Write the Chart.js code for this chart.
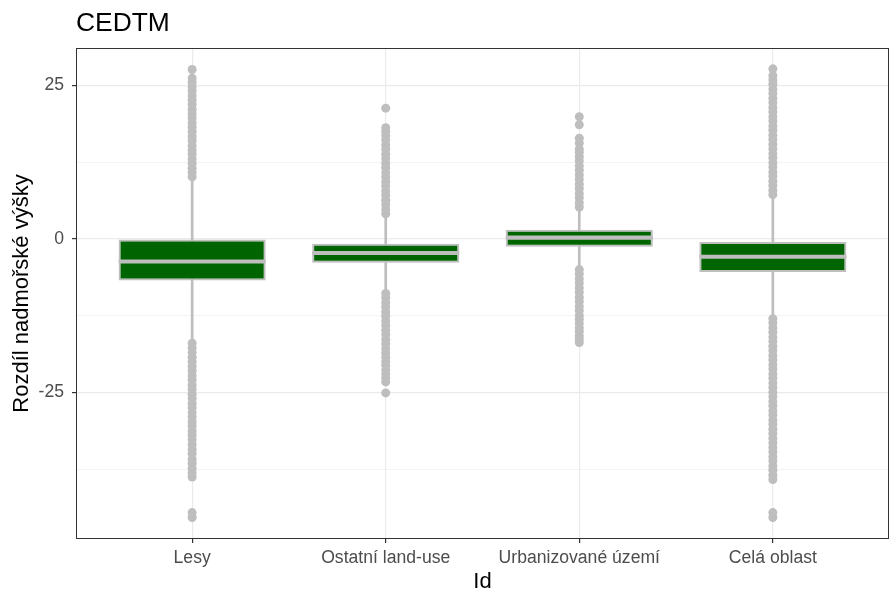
<!DOCTYPE html>
<html>
<head>
<meta charset="utf-8">
<script src="https://cdn.jsdelivr.net/npm/chart.js@4.4.1/dist/chart.umd.min.js"></script>
<style>
  body { margin: 0; background: #fff; }
  #wrap { width: 889px; height: 592px; }
</style>
</head>
<body>
<div id="wrap"><canvas id="boxChart" width="889" height="592"></canvas></div>
<script>
// kategorie a statistiky krabicových grafů
const categories = ['Lesy', 'Ostatní land-use', 'Urbanizované území', 'Celá oblast'];
const q1 = [-6.8, -3.9, -1.3, -5.4];
const median = [-3.7, -2.3, 0.2, -2.9];
const q3 = [-0.1, -0.8, 1.5, -0.5];
const whiskerLo = [-16.6, -8.7, -4.8, -12.8];
const whiskerHi = [9.8, 3.8, 4.9, 6.9];

// odlehlé hodnoty
const lesyOut = [10.1, 10.8, 11.5, 12.3, 13.0, 13.8, 14.5, 15.2, 16.0, 16.7, 17.5, 18.2, 18.9, 19.7, 20.4, 21.1, 21.9, 22.6, 23.3, 24.1, 24.8, 25.5, 26.2, 27.6,
  -17.0, -17.8, -18.5, -19.3, -20.0, -20.8, -21.5, -22.3, -23.0, -23.8, -24.5, -25.3, -26.0, -26.8, -27.5, -28.3, -29.0, -29.8, -30.5, -31.3, -32.0, -32.7,
  -33.5, -34.3, -35.0, -35.9, -36.6, -37.4, -38.1, -38.8, -44.6, -45.4];
const ostatniOut = [4.1, 4.8, 5.6, 6.3, 7.1, 7.8, 8.6, 9.3, 10.1, 10.8, 11.6, 12.3, 13.1, 13.8, 14.6, 15.3, 16.1, 16.8, 17.5, 18.1, 21.3,
  -8.9, -9.6, -10.4, -11.1, -11.9, -12.6, -13.4, -14.1, -14.9, -15.6, -16.4, -17.1, -17.9, -18.6, -19.3, -20.0, -20.6, -21.3, -22.0, -22.7, -23.3, -25.1];
const urbanOut = [5.2, 5.9, 6.7, 7.4, 8.2, 8.9, 9.7, 10.4, 11.2, 11.9, 12.7, 13.4, 14.1, 14.6, 15.6, 16.4, 18.6, 19.9,
  -5.0, -5.7, -6.5, -7.2, -8.0, -8.7, -9.5, -10.2, -11.0, -11.7, -12.5, -13.1, -13.8, -14.5, -15.1, -15.8, -16.3, -16.9];
const celaOut = [7.2, 7.9, 8.7, 9.4, 10.2, 10.9, 11.7, 12.4, 13.2, 13.9, 14.7, 15.4, 16.2, 16.9, 17.7, 18.4, 19.2, 19.9, 20.7, 21.4, 22.2, 22.9, 23.7, 24.4, 25.2, 25.9, 26.6, 27.7,
  -13.0, -13.7, -14.5, -15.2, -16.0, -16.7, -17.5, -18.2, -19.0, -19.7, -20.5, -21.2, -22.0, -22.7, -23.5, -24.2, -25.0, -25.7, -26.5, -27.2, -28.0, -28.7,
  -29.5, -30.2, -31.0, -31.7, -32.5, -33.2, -34.0, -34.7, -35.5, -36.2, -37.0, -37.7, -38.5, -39.2, -44.6, -45.4];
const outliers = [lesyOut, ostatniOut, urbanOut, celaOut];

const yMajor = [-25, 0, 25];
const yMinor = [-37.5, -12.5, 12.5];

const FONT = "'Liberation Sans', Arial, sans-serif";
const GREY = '#BEBEBE';

function isMajor(v) {
    return yMajor.indexOf(v) !== -1;
}

// titulky a rámeček panelu
const textPlugin = {
    id: 'texty',
    afterDraw(chart) {
        const ctx = chart.ctx;
        const a = chart.chartArea;
        ctx.save();
        ctx.strokeStyle = '#333333';
        ctx.lineWidth = 1;
        ctx.strokeRect(a.left + 0.5, a.top + 0.5, a.right - a.left - 1, a.bottom - a.top - 1);

        ctx.fillStyle = '#000';
        ctx.font = '26.4px ' + FONT;
        ctx.textAlign = 'left';
        ctx.textBaseline = 'alphabetic';
        ctx.fillText('CEDTM', 76, 31);

        ctx.font = '22px ' + FONT;
        ctx.textAlign = 'center';
        ctx.fillText('Id', (a.left + a.right) / 2, 588);

        ctx.translate(28, (a.top + a.bottom) / 2);
        ctx.rotate(-Math.PI / 2);
        ctx.fillText('Rozdíl nadmořské výšky', 0, 0);
        ctx.restore();
    }
};

const points = [];
outliers.forEach((arr, i) => arr.forEach(v => points.push({ x: i + 1, y: v })));

new Chart(document.getElementById('boxChart'), {
    type: 'bar',
    data: {
        datasets: [
            {
                type: 'scatter',
                data: points,
                backgroundColor: GREY,
                borderWidth: 0,
                pointRadius: 4.5,
                order: 1
            },
            {
                data: median.map((m, i) => ({ x: i + 1, y: [m - 0.33, m + 0.33] })),
                backgroundColor: GREY,
                borderWidth: 0,
                grouped: false,
                categoryPercentage: 1,
                barPercentage: 0.76,
                order: 2
            },
            {
                data: q1.map((v, i) => ({ x: i + 1, y: [v, q3[i]] })),
                backgroundColor: '#006400',
                borderColor: GREY,
                borderWidth: 2,
                borderSkipped: false,
                grouped: false,
                categoryPercentage: 1,
                barPercentage: 0.76,
                order: 3
            },
            {
                data: whiskerLo.map((v, i) => ({ x: i + 1, y: [v, whiskerHi[i]] })),
                backgroundColor: GREY,
                borderWidth: 0,
                grouped: false,
                barThickness: 2,
                order: 4
            }
        ]
    },
    options: {
        responsive: false,
        animation: false,
        layout: { autoPadding: false, padding: { top: 48, left: 0, right: 0, bottom: 0 } },
        plugins: {
            legend: { display: false },
            tooltip: { enabled: false },
            title: { display: false }
        },
        scales: {
            x: {
                type: 'linear',
                min: 0.4,
                max: 4.6,
                offset: false,
                afterBuildTicks: scale => {
                    scale.ticks = categories.map((c, i) => ({ value: i + 1 }));
                },
                afterFit: scale => { scale.height = 53; },
                grid: { offset: false, color: '#EBEBEB', lineWidth: 1.2, tickColor: '#333333', tickLength: 4 },
                border: { display: false },
                ticks: {
                    autoSkip: false,
                    maxRotation: 0,
                    padding: 5,
                    color: '#4D4D4D',
                    font: { family: FONT, size: 17.6 },
                    callback: v => categories[v - 1]
                }
            },
            y: {
                type: 'linear',
                min: -48.9,
                max: 31.1,
                afterBuildTicks: scale => {
                    scale.ticks = yMinor.concat(yMajor).sort((a, b) => a - b).map(v => ({ value: v }));
                },
                afterFit: scale => { scale.width = 76; },
                grid: {
                    color: '#EBEBEB',
                    lineWidth: c => (c.tick && isMajor(c.tick.value)) ? 1.2 : 0.6,
                    tickColor: c => (c.tick && isMajor(c.tick.value)) ? '#333333' : 'rgba(0,0,0,0)',
                    tickLength: 4
                },
                border: { display: false },
                ticks: {
                    padding: 8,
                    color: '#4D4D4D',
                    font: { family: FONT, size: 17.6 },
                    callback: v => isMajor(v) ? String(v) : ''
                }
            }
        }
    },
    plugins: [textPlugin]
});
</script>
</body>
</html>
